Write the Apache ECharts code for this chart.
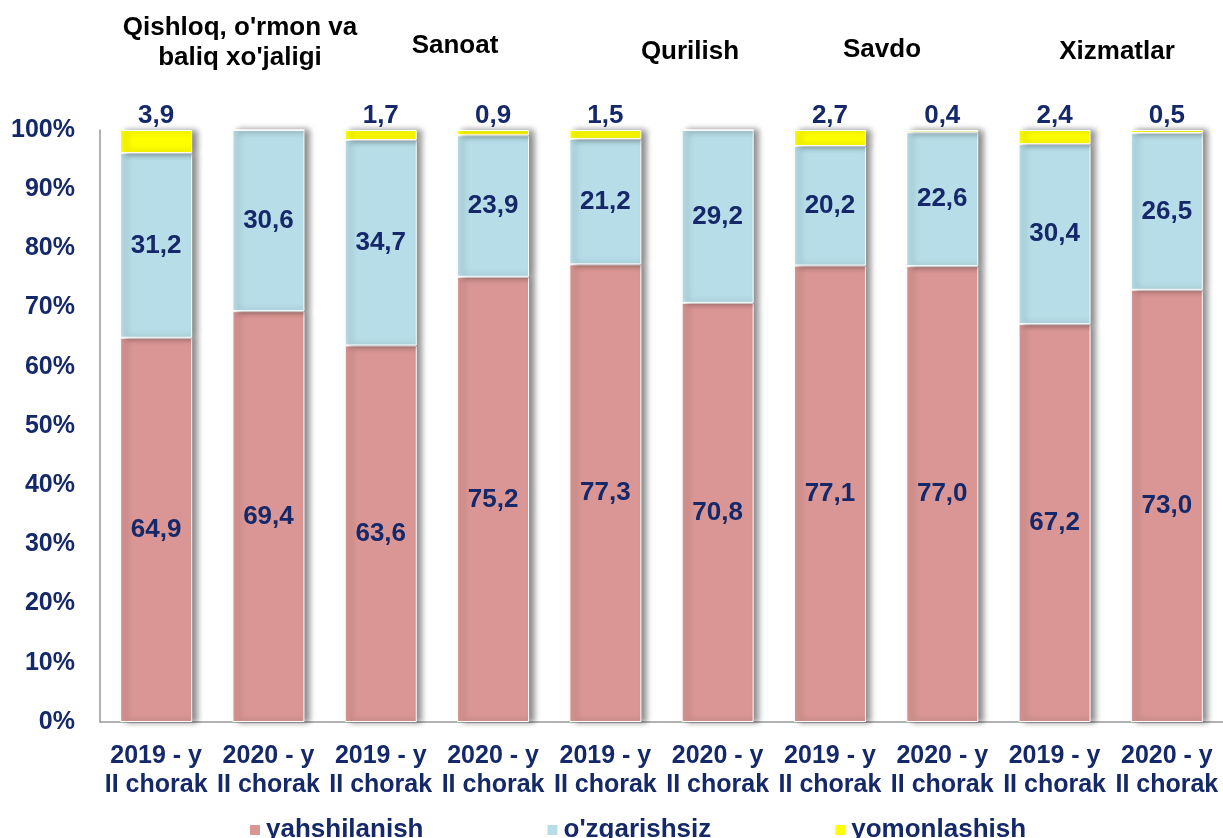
<!DOCTYPE html>
<html>
<head>
<meta charset="utf-8">
<script src="https://cdn.jsdelivr.net/npm/echarts@6/dist/echarts.min.js"></script>
<style>
html,body{margin:0;padding:0;background:#fff;}
#chart{width:1223px;height:838px;}
</style>
</head>
<body>
<div id="chart"></div>
<script>
var categories = ["2019 - y\nII chorak","2020 - y\nII chorak","2019 - y\nII chorak","2020 - y\nII chorak","2019 - y\nII chorak","2020 - y\nII chorak","2019 - y\nII chorak","2020 - y\nII chorak","2019 - y\nII chorak","2020 - y\nII chorak"];
var seriesNames = ["yahshilanish","o'zgarishsiz","yomonlashish"];
var yahshilanish = [64.9, 69.4, 63.6, 75.2, 77.3, 70.8, 77.1, 77.0, 67.2, 73.0];
var ozgarishsiz = [31.2, 30.6, 34.7, 23.9, 21.2, 29.2, 20.2, 22.6, 30.4, 26.5];
var yomonlashish = [3.9, 0, 1.7, 0.9, 1.5, 0, 2.7, 0.4, 2.4, 0.5];
var groupTitles = ["Qishloq, o'rmon va\nbaliq xo'jaligi","Sanoat","Qurilish","Savdo","Xizmatlar"];
var yTicks = [0,10,20,30,40,50,60,70,80,90,100];

var NAVY = '#14286A';
var FONT = '"Liberation Sans", Arial, sans-serif';
var fmt = function(p){ return p.value ? p.value.toFixed(1).replace('.', ',') : ''; };
var shadow = {shadowColor:'rgba(0,0,0,0.45)', shadowBlur:6, shadowOffsetX:5, shadowOffsetY:0, borderColor:'#fff', borderWidth:1};

function mk(name, data, color, pos){
  return {
    name: name, type: 'bar', stack: 'a', data: data, barWidth: 72,
    itemStyle: Object.assign({color: color}, shadow),
    label: {show: true, position: pos, distance: 1, formatter: fmt, color: NAVY,
            fontFamily: FONT, fontWeight: 'bold', fontSize: 26},
    emphasis: {disabled: true}
  };
}

var chart = echarts.init(document.getElementById('chart'), null, {renderer:'canvas'});
var titlePos = [[240,43],[455,46],[690,52],[882,50],[1117,52]];
var graphics = groupTitles.map(function(t,i){
  return {type:'text', x: titlePos[i][0], y: titlePos[i][1], silent:true,
    style:{text:t, x:0, y:0, textAlign:'center', textVerticalAlign:'middle',
      fill:'#000', font:'bold 26px ' + FONT, lineHeight: 30}};
});

chart.setOption({
  animation: false,
  grid: {left: 100, top: 130, width: 1134, height: 592, containLabel: false},
  graphic: graphics,
  legend: {
    top: 812, left: 243, itemGap: 122, itemWidth: 12, itemHeight: 12, icon: 'rect',
    data: seriesNames,
    textStyle: {color: NAVY, fontFamily: FONT, fontWeight: 'bold', fontSize: 26}
  },
  xAxis: {
    type: 'category', data: categories,
    axisLine: {show: true, lineStyle: {color: '#999', width: 1.5}},
    axisTick: {show: false},
    axisLabel: {interval: 0, margin: 20, color: NAVY, fontFamily: FONT, fontWeight: 'bold', fontSize: 25, lineHeight: 29}
  },
  yAxis: {
    type: 'value', min: 0, max: 100, interval: 10,
    axisLine: {show: true, lineStyle: {color: '#999', width: 1.5}},
    axisTick: {show: false},
    splitLine: {show: false},
    axisLabel: {margin: 25, color: NAVY, fontFamily: FONT, fontWeight: 'bold', fontSize: 25,
      formatter: function(v){ return yTicks.indexOf(v) >= 0 ? v + '%' : ''; }}
  },
  series: [
    mk(seriesNames[0], yahshilanish, '#D99694', 'inside'),
    mk(seriesNames[1], ozgarishsiz, '#B7DEE8', 'inside'),
    mk(seriesNames[2], yomonlashish, '#FFFF00', 'top')
  ]
});
</script>
</body>
</html>
